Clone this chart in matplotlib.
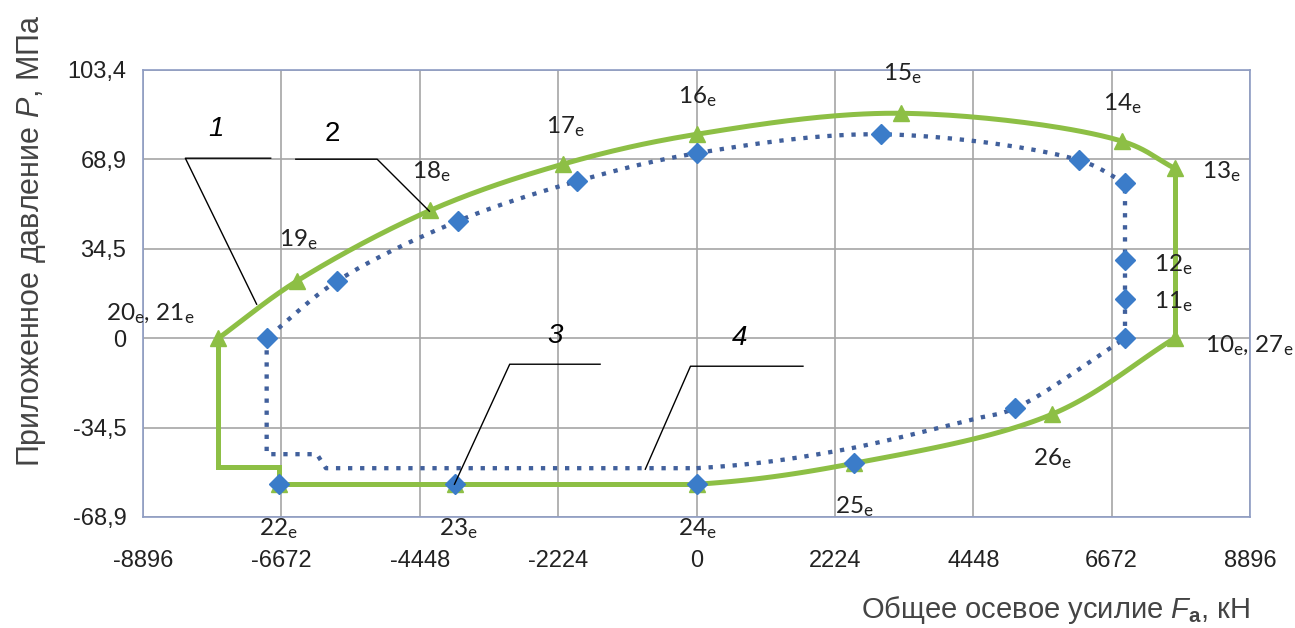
"""Pressure vs. total axial load loop chart (recreated figure)."""

import matplotlib

matplotlib.use("Agg")

import matplotlib.pyplot as plt
import numpy as np

# curve 1/2 -- solid green path with triangle markers (kN, MPa)
green_x = [7683, 7683, 6843, 3293, 0, -2147, -4277, -6424, -7683,
           -7683, -6714, -6714, -3874, 0, 2534, 5713, 7683]
green_y = [0.0, 65.5, 75.9, 86.7, 78.6, 67.1, 49.3, 22.0, 0.0,
           -49.7, -49.7, -56.3, -56.3, -56.3, -48.2, -29.3, 0.0]
green_marked = [0, 1, 2, 3, 4, 5, 6, 7, 8, 11, 12, 13, 14, 15]

# curve 3/4 -- dotted blue path with diamond markers
blue_x = [6892, 6892, 6892, 6892, 6149, 2970, 0, -1921, -3841, -5778,
          -6908, -6908, -6101, -5956, 0, 2224, 4448, 5116, 6892]
blue_y = [0.0, 15.0, 30.1, 59.8, 68.6, 78.6, 71.3, 60.5, 45.1, 22.0,
          0.0, -44.7, -44.7, -50.1, -50.1, -43.6, -31.2, -27.0, 0.0]
blue_marked = [0, 1, 2, 3, 4, 5, 6, 7, 8, 9, 10, 17]

# blue diamonds that sit on the lower green branch
blue_low_x = [-6714, -3874, 0, 2534]
blue_low_y = [-56.3, -56.3, -56.3, -48.2]

x_ticks = [-8896, -6672, -4448, -2224, 0, 2224, 4448, 6672, 8896]
y_ticks = [-68.9, -34.5, 0.0, 34.5, 68.9, 103.4]
y_tick_labels = ["-68,9", "-34,5", "0", "34,5", "68,9", "103,4"]

# point captions and the point each one belongs to
point_names = ["20, 21", "19", "18", "17", "16", "15", "14", "13", "12",
               "11", "10, 27", "26", "25", "24", "23", "22"]
point_anchor_x = [-7683, -6424, -4277, -2147, 0, 3293, 6843, 7683, 6892,
                  6892, 7683, 5713, 2534, 0, -3874, -6714]
point_anchor_y = [0.0, 22.0, 49.3, 67.1, 78.6, 86.7, 75.9, 65.5, 30.1,
                  15.0, 0.0, -29.3, -48.2, -56.3, -56.3, -56.3]

GREEN = "#8dbf45"
BLUE = "#3b7cc9"
DOTS = "#41609c"
GRID = "#a6a6a6"

# rough data units per pixel, used to smooth in screen space
PX_SCALE = np.array([16.14, 0.3855])


def _smooth(xs, ys, first=0, steps=40):
    """Centripetal Catmull-Rom through the points, drawn from index `first`."""
    pts = np.column_stack([xs, ys]).astype(float) / PX_SCALE
    pts = np.vstack([2 * pts[0] - pts[1], pts, 2 * pts[-1] - pts[-2]])
    out = []
    for i in range(1 + first, len(pts) - 2):
        p0, p1, p2, p3 = pts[i - 1], pts[i], pts[i + 1], pts[i + 2]
        t0 = 0.0
        t1 = t0 + np.linalg.norm(p1 - p0) ** 0.5
        t2 = t1 + np.linalg.norm(p2 - p1) ** 0.5
        t3 = t2 + np.linalg.norm(p3 - p2) ** 0.5
        t = np.linspace(t1, t2, steps)[:, None]
        a1 = (t1 - t) / (t1 - t0) * p0 + (t - t0) / (t1 - t0) * p1
        a2 = (t2 - t) / (t2 - t1) * p1 + (t - t1) / (t2 - t1) * p2
        a3 = (t3 - t) / (t3 - t2) * p2 + (t - t2) / (t3 - t2) * p3
        b1 = (t2 - t) / (t2 - t0) * a1 + (t - t0) / (t2 - t0) * a2
        b2 = (t3 - t) / (t3 - t1) * a2 + (t - t1) / (t3 - t1) * a3
        c = (t2 - t) / (t2 - t1) * b1 + (t - t1) / (t2 - t1) * b2
        out.append(c if not out else c[1:])
    path = np.vstack(out) * PX_SCALE
    return path[:, 0], path[:, 1]


def _sub(name):
    parts = [p.strip() + r"$_\mathregular{e}$" for p in name.split(",")]
    return ", ".join(parts)


def main():
    plt.rcParams["mathtext.fontset"] = "custom"
    plt.rcParams["mathtext.it"] = "Liberation Sans:italic"
    plt.rcParams["mathtext.bf"] = "Liberation Sans:bold"
    plt.rcParams["mathtext.rm"] = "Liberation Sans"

    fig = plt.figure(figsize=(12.95, 6.28), dpi=100)
    ax = fig.add_axes([0.1104, 0.1768, 0.8549, 0.7118])

    # green loop: straight vertical pieces + smoothed arcs
    gx, gy = np.array(green_x, float), np.array(green_y, float)
    line_kw = dict(color=GREEN, lw=3.6, solid_capstyle="round", zorder=3)
    ax.plot(gx[0:2], gy[0:2], **line_kw)
    sx, sy = _smooth(gx[1:9], gy[1:9])
    ax.plot(sx, sy, **line_kw)
    ax.plot(gx[8:14], gy[8:14], solid_joinstyle="miter", **line_kw)
    sx, sy = _smooth(gx[12:], gy[12:], first=1)
    ax.plot(sx, sy, **line_kw)
    ax.plot(gx[green_marked], gy[green_marked], ls="none", marker="^",
            ms=12, color=GREEN, zorder=4)

    # blue dotted loop
    bx, by = np.array(blue_x, float), np.array(blue_y, float)
    dot_kw = dict(color=DOTS, lw=3.1, ls=(0, (1, 1.8)), zorder=5)
    ax.plot(bx[0:4], by[0:4], **dot_kw)
    sx, sy = _smooth(bx[3:11], by[3:11])
    ax.plot(sx, sy, **dot_kw)
    ax.plot(bx[10:15], by[10:15], **dot_kw)
    sx, sy = _smooth(bx[13:], by[13:], first=1)
    ax.plot(sx, sy, **dot_kw)
    ax.plot(bx[blue_marked], by[blue_marked], ls="none", marker="D",
            ms=10.5, color=BLUE, zorder=6)
    ax.plot(blue_low_x, blue_low_y, ls="none", marker="D", ms=10.5,
            color=BLUE, zorder=6)

    # point captions
    offsets = [(-68, 25), (2, 42), (1, 39), (2, 38), (1, 38), (1, 40),
               (0, 38), (47, -3), (48, -4), (48, -2), (75, -7), (0, -44),
               (0, -43), (1, -44), (3, -44), (0, -44)]
    for name, x, y, (dx, dy) in zip(point_names, point_anchor_x,
                                    point_anchor_y, offsets):
        ax.annotate(_sub(name), (x, y), xytext=(dx * 0.72, dy * 0.72),
                    textcoords="offset points", ha="center", va="center",
                    fontsize=17.5, family="Lato", color="#222222",
                    annotation_clip=False, zorder=7)

    # leader lines with curve numbers (figure pixels -> axes data)
    def px(x, y):
        return (x - 696) * 16.14, (337 - y) * 0.3855

    leaders = [
        ("1", (218, 128), [(272, 157), (187, 157), (258, 303)], "italic"),
        ("2", (333, 133), [(297, 158), (378, 158), (430, 210)], "normal"),
        ("3", (555, 335), [(600, 363), (510, 363), (455, 483)], "italic"),
        ("4", (739, 337), [(802, 365), (690, 365), (645, 468)], "italic"),
    ]
    for label, text_pos, pts, style in leaders:
        xy = np.array([px(*p) for p in pts])
        ax.plot(xy[:, 0], xy[:, 1], color="black", lw=1.0, zorder=8)
        tx, ty = px(*text_pos)
        ax.text(tx, ty, label, ha="center", va="center", fontsize=20,
                style=style, family="Liberation Sans", zorder=8)

    ax.set_xlim(-8896, 8896)
    ax.set_ylim(-68.9, 103.4)
    ax.set_xticks(x_ticks)
    ax.set_xticklabels([str(v) for v in x_ticks])
    ax.set_yticks(y_ticks)
    ax.set_yticklabels(y_tick_labels)
    ax.tick_params(length=0, labelsize=17, colors="#222222")
    ax.tick_params(axis="x", pad=24)
    ax.tick_params(axis="y", pad=12)
    for lab in ax.get_xticklabels() + ax.get_yticklabels():
        lab.set_family("Liberation Sans")
    ax.grid(True, color=GRID, lw=1.2)
    ax.set_axisbelow(True)
    for spine in ax.spines.values():
        spine.set_color("#8e9cc4")
        spine.set_linewidth(1.2)

    fig.text(0.024, 0.617, r"Приложенное давление $\mathit{P}$, МПа",
             rotation=90, ha="center", va="center", fontsize=22,
             family="Liberation Sans", color="#444444")
    fig.text(0.965, 0.028, r"Общее осевое усилие $\mathit{F}_\mathbf{a}$, кН",
             ha="right", va="center", fontsize=21,
             family="Liberation Sans", color="#444444")

    fig.savefig("out.png", dpi=100)
    plt.close(fig)


if __name__ == "__main__":
    main()
